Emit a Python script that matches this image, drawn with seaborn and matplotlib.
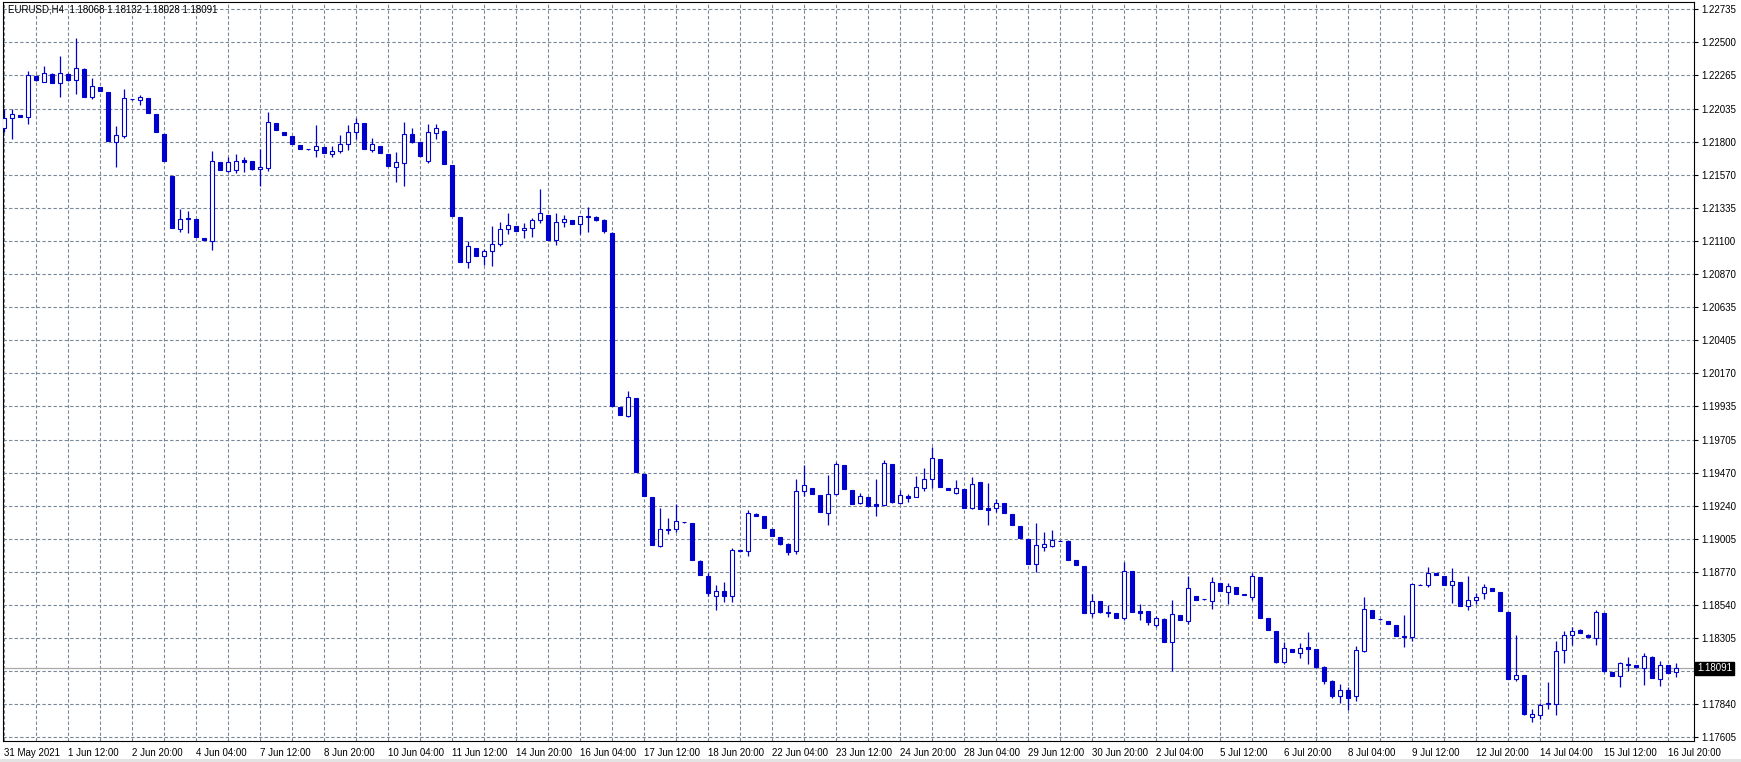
import numpy as np
import matplotlib
matplotlib.use("Agg")
import matplotlib.pyplot as plt
from matplotlib.patches import Rectangle
import seaborn as sns

sns.set_style("white")
plt.rcParams['font.family'] = ['Liberation Sans', 'DejaVu Sans']

symbol = "EURUSD,H4"

# H4 candles, oldest first
opens = [
    1.21900, 1.21967, 1.21990, 1.21974, 1.22265, 1.22224, 1.22279, 1.22213, 1.22279, 1.22234,
    1.22314, 1.22115, 1.22187, 1.22152, 1.21802, 1.21842, 1.22100, 1.22098, 1.22110, 1.21997,
    1.21856, 1.21560, 1.21187, 1.21260, 1.21255, 1.21123, 1.21104, 1.21659, 1.21597, 1.21602,
    1.21673, 1.21666, 1.21607, 1.21619, 1.21933, 1.21870, 1.21842, 1.21778, 1.21748, 1.21745,
    1.21764, 1.21713, 1.21738, 1.21783, 1.21872, 1.21933, 1.21745, 1.21771, 1.21715, 1.21626,
    1.21654, 1.21856, 1.21800, 1.21668, 1.21860, 1.21880, 1.21638, 1.21271, 1.20952, 1.21053,
    1.20994, 1.21030, 1.21079, 1.21185, 1.21208, 1.21178, 1.21192, 1.21248, 1.21285, 1.21107,
    1.21234, 1.21250, 1.21220, 1.21274, 1.21270, 1.21250, 1.21160, 1.19933, 1.19871, 1.19996,
    1.19461, 1.19299, 1.18955, 1.19069, 1.19071, 1.19122, 1.19115, 1.18850, 1.18745, 1.18600,
    1.18640, 1.18600, 1.18921, 1.18920, 1.19181, 1.19165, 1.19073, 1.19017, 1.18965, 1.18915,
    1.19339, 1.19362, 1.19313, 1.19188, 1.19322, 1.19524, 1.19348, 1.19258, 1.19299, 1.19247,
    1.19244, 1.19531, 1.19258, 1.19306, 1.19301, 1.19364, 1.19423, 1.19564, 1.19362, 1.19329,
    1.19355, 1.19219, 1.19404, 1.19221, 1.19219, 1.19256, 1.19179, 1.19094, 1.19003, 1.18824,
    1.18949, 1.18955, 1.18991, 1.18991, 1.18855, 1.18813, 1.18479, 1.18566, 1.18491, 1.18479,
    1.18444, 1.18777, 1.18495, 1.18495, 1.18400, 1.18441, 1.18275, 1.18467, 1.18427, 1.18601,
    1.18578, 1.18564, 1.18693, 1.18627, 1.18665, 1.18612, 1.18596, 1.18735, 1.18446, 1.18355,
    1.18140, 1.18228, 1.18202, 1.18242, 1.18228, 1.18100, 1.18000, 1.17900, 1.17940, 1.17900,
    1.18216, 1.18503, 1.18437, 1.18425, 1.18397, 1.18317, 1.18314, 1.18680, 1.18677, 1.18763,
    1.18742, 1.18677, 1.18700, 1.18529, 1.18571, 1.18620, 1.18658, 1.18629, 1.18488, 1.18020,
    1.18043, 1.17752, 1.17762, 1.17840, 1.17838, 1.18221, 1.18328, 1.18365, 1.18328, 1.18307,
    1.18482, 1.18064, 1.18036, 1.18118, 1.18112, 1.18091, 1.18173, 1.18019, 1.18112, 1.18068,
]
highs = [
    1.22032, 1.22032, 1.21993, 1.22300, 1.22270, 1.22335, 1.22283, 1.22405, 1.22283, 1.22534,
    1.22318, 1.22250, 1.22190, 1.22155, 1.21912, 1.22173, 1.22103, 1.22133, 1.22113, 1.22000,
    1.21859, 1.21563, 1.21330, 1.21313, 1.21258, 1.21126, 1.21736, 1.21662, 1.21692, 1.21715,
    1.21692, 1.21669, 1.21750, 1.22011, 1.21936, 1.21873, 1.21845, 1.21781, 1.21750, 1.21919,
    1.21767, 1.21771, 1.21849, 1.21919, 1.21967, 1.21936, 1.21826, 1.21774, 1.21718, 1.21729,
    1.21938, 1.21900, 1.21803, 1.21930, 1.21930, 1.21883, 1.21641, 1.21274, 1.21102, 1.21056,
    1.21048, 1.21208, 1.21236, 1.21299, 1.21211, 1.21229, 1.21262, 1.21469, 1.21288, 1.21299,
    1.21285, 1.21253, 1.21276, 1.21340, 1.21280, 1.21260, 1.21163, 1.19936, 1.20045, 1.19999,
    1.19464, 1.19302, 1.19221, 1.19151, 1.19249, 1.19125, 1.19118, 1.18853, 1.18760, 1.18680,
    1.18700, 1.18937, 1.18924, 1.19207, 1.19184, 1.19168, 1.19076, 1.19020, 1.18975, 1.19425,
    1.19526, 1.19365, 1.19316, 1.19454, 1.19545, 1.19527, 1.19351, 1.19327, 1.19302, 1.19425,
    1.19559, 1.19534, 1.19348, 1.19320, 1.19447, 1.19503, 1.19651, 1.19567, 1.19365, 1.19418,
    1.19358, 1.19437, 1.19407, 1.19397, 1.19285, 1.19259, 1.19182, 1.19097, 1.19006, 1.19115,
    1.19052, 1.19066, 1.18994, 1.18994, 1.18858, 1.18816, 1.18615, 1.18569, 1.18536, 1.18482,
    1.18841, 1.18780, 1.18543, 1.18498, 1.18460, 1.18444, 1.18573, 1.18470, 1.18740, 1.18604,
    1.18581, 1.18735, 1.18696, 1.18691, 1.18668, 1.18615, 1.18761, 1.18738, 1.18449, 1.18358,
    1.18277, 1.18231, 1.18270, 1.18348, 1.18231, 1.18110, 1.18010, 1.17980, 1.17960, 1.18249,
    1.18594, 1.18506, 1.18440, 1.18428, 1.18400, 1.18467, 1.18684, 1.18683, 1.18805, 1.18766,
    1.18745, 1.18798, 1.18703, 1.18742, 1.18620, 1.18686, 1.18661, 1.18632, 1.18491, 1.18326,
    1.18046, 1.17803, 1.17848, 1.17998, 1.18283, 1.18358, 1.18386, 1.18368, 1.18331, 1.18506,
    1.18485, 1.18067, 1.18139, 1.18173, 1.18115, 1.18197, 1.18176, 1.18146, 1.18115, 1.18132,
]
lows = [
    1.21872, 1.21819, 1.21975, 1.21926, 1.22232, 1.22220, 1.22213, 1.22119, 1.22232, 1.22138,
    1.22115, 1.22103, 1.22158, 1.21806, 1.21626, 1.21830, 1.22097, 1.22062, 1.22003, 1.21869,
    1.21665, 1.21191, 1.21166, 1.21159, 1.21129, 1.21108, 1.21039, 1.21599, 1.21586, 1.21583,
    1.21590, 1.21606, 1.21490, 1.21597, 1.21881, 1.21848, 1.21785, 1.21747, 1.21744, 1.21696,
    1.21721, 1.21696, 1.21724, 1.21743, 1.21821, 1.21747, 1.21731, 1.21719, 1.21630, 1.21520,
    1.21490, 1.21790, 1.21700, 1.21650, 1.21820, 1.21644, 1.21277, 1.20953, 1.20914, 1.20996,
    1.20931, 1.20928, 1.21067, 1.21154, 1.21172, 1.21125, 1.21130, 1.21231, 1.21108, 1.21076,
    1.21201, 1.21221, 1.21154, 1.21168, 1.21240, 1.21160, 1.19939, 1.19875, 1.19864, 1.19474,
    1.19305, 1.18960, 1.18948, 1.19040, 1.19052, 1.19117, 1.18852, 1.18747, 1.18600, 1.18500,
    1.18560, 1.18560, 1.18918, 1.18885, 1.19164, 1.19079, 1.19021, 1.18962, 1.18890, 1.18900,
    1.19304, 1.19319, 1.19192, 1.19104, 1.19313, 1.19354, 1.19248, 1.19247, 1.19232, 1.19167,
    1.19241, 1.19260, 1.19251, 1.19261, 1.19298, 1.19343, 1.19360, 1.19368, 1.19345, 1.19318,
    1.19220, 1.19212, 1.19213, 1.19101, 1.19195, 1.19185, 1.19101, 1.19009, 1.18826, 1.18772,
    1.18920, 1.18949, 1.18988, 1.18852, 1.18819, 1.18481, 1.18455, 1.18485, 1.18455, 1.18445,
    1.18432, 1.18488, 1.18432, 1.18400, 1.18380, 1.18277, 1.18075, 1.18429, 1.18404, 1.18572,
    1.18575, 1.18512, 1.18636, 1.18548, 1.18614, 1.18610, 1.18575, 1.18445, 1.18359, 1.18130,
    1.18120, 1.18204, 1.18164, 1.18122, 1.18097, 1.17980, 1.17880, 1.17850, 1.17800, 1.17860,
    1.18209, 1.18443, 1.18434, 1.18403, 1.18318, 1.18244, 1.18286, 1.18677, 1.18667, 1.18748,
    1.18678, 1.18554, 1.18530, 1.18505, 1.18548, 1.18580, 1.18636, 1.18495, 1.18015, 1.18000,
    1.17766, 1.17717, 1.17734, 1.17803, 1.17762, 1.18129, 1.18256, 1.18338, 1.18311, 1.18256,
    1.18067, 1.18037, 1.17961, 1.18070, 1.18095, 1.17974, 1.18023, 1.17964, 1.18057, 1.18028,
]
closes = [
    1.21971, 1.21995, 1.21978, 1.22270, 1.22236, 1.22284, 1.22217, 1.22286, 1.22236, 1.22319,
    1.22119, 1.22192, 1.22161, 1.21809, 1.21847, 1.22107, 1.22100, 1.22117, 1.22006, 1.21872,
    1.21668, 1.21194, 1.21255, 1.21264, 1.21132, 1.21111, 1.21664, 1.21602, 1.21659, 1.21666,
    1.21659, 1.21609, 1.21621, 1.21938, 1.21884, 1.21851, 1.21788, 1.21750, 1.21747, 1.21769,
    1.21724, 1.21734, 1.21783, 1.21868, 1.21931, 1.21750, 1.21783, 1.21722, 1.21633, 1.21659,
    1.21856, 1.21800, 1.21703, 1.21870, 1.21900, 1.21647, 1.21280, 1.20956, 1.21065, 1.20999,
    1.21032, 1.21079, 1.21187, 1.21213, 1.21175, 1.21194, 1.21248, 1.21299, 1.21111, 1.21236,
    1.21255, 1.21224, 1.21276, 1.21278, 1.21250, 1.21170, 1.19942, 1.19878, 1.20001, 1.19477,
    1.19308, 1.18963, 1.19071, 1.19073, 1.19127, 1.19120, 1.18855, 1.18750, 1.18620, 1.18640,
    1.18600, 1.18923, 1.18921, 1.19184, 1.19167, 1.19082, 1.19024, 1.18965, 1.18910, 1.19339,
    1.19381, 1.19322, 1.19195, 1.19318, 1.19529, 1.19357, 1.19251, 1.19304, 1.19235, 1.19235,
    1.19536, 1.19263, 1.19311, 1.19294, 1.19367, 1.19423, 1.19571, 1.19371, 1.19348, 1.19360,
    1.19223, 1.19393, 1.19216, 1.19209, 1.19254, 1.19188, 1.19104, 1.19012, 1.18829, 1.18958,
    1.18965, 1.18994, 1.18991, 1.18855, 1.18822, 1.18484, 1.18564, 1.18488, 1.18484, 1.18448,
    1.18777, 1.18491, 1.18484, 1.18420, 1.18446, 1.18280, 1.18472, 1.18432, 1.18655, 1.18575,
    1.18578, 1.18698, 1.18639, 1.18669, 1.18617, 1.18613, 1.18740, 1.18448, 1.18362, 1.18140,
    1.18235, 1.18207, 1.18235, 1.18230, 1.18100, 1.18000, 1.17900, 1.17940, 1.17880, 1.18219,
    1.18510, 1.18446, 1.18437, 1.18406, 1.18321, 1.18312, 1.18684, 1.18680, 1.18761, 1.18751,
    1.18681, 1.18705, 1.18533, 1.18571, 1.18592, 1.18663, 1.18639, 1.18498, 1.18020, 1.18045,
    1.17769, 1.17772, 1.17837, 1.17846, 1.18214, 1.18328, 1.18358, 1.18341, 1.18314, 1.18492,
    1.18070, 1.18040, 1.18129, 1.18125, 1.18098, 1.18180, 1.18026, 1.18112, 1.18060, 1.18091,
]

date_labels = [
    "31 May 2021", "1 Jun 12:00", "2 Jun 20:00", "4 Jun 04:00", "7 Jun 12:00",
    "8 Jun 20:00", "10 Jun 04:00", "11 Jun 12:00", "14 Jun 20:00", "16 Jun 04:00",
    "17 Jun 12:00", "18 Jun 20:00", "22 Jun 04:00", "23 Jun 12:00", "24 Jun 20:00",
    "28 Jun 04:00", "29 Jun 12:00", "30 Jun 20:00", "2 Jul 04:00", "5 Jul 12:00",
    "6 Jul 20:00", "8 Jul 04:00", "9 Jul 12:00", "12 Jul 20:00", "14 Jul 04:00",
    "15 Jul 12:00", "16 Jul 20:00",
]
price_labels = [
    "1.22735", "1.22500", "1.22265", "1.22035", "1.21800", "1.21570", "1.21335",
    "1.21100", "1.20870", "1.20635", "1.20405", "1.20170", "1.19935", "1.19705",
    "1.19470", "1.19240", "1.19005", "1.18770", "1.18540", "1.18305", "1.18070",
    "1.17840", "1.17605",
]

blue = "#0000CD"
grid_col = "#778899"

o = np.array(opens)
h = np.array(highs)
l = np.array(lows)
c = np.array(closes)
idx = np.arange(len(o))
bull = c >= o
last = c[-1]

fig = plt.figure(figsize=(17.41, 7.62), dpi=100)
fig.patch.set_facecolor("white")
ax = fig.add_axes([3 / 1741, 21 / 762, 1691 / 1741, 739 / 762])
ax.set_xlim(-0.125, 211.25)
ax.set_ylim(1.17580, 1.22786)

# dotted grid: every 4th bar vertically, every price level horizontally
price_ticks = np.linspace(float(price_labels[0]), float(price_labels[-1]), len(price_labels))
ax.vlines(idx[::4], 1.17580, 1.22786, colors=grid_col, linestyles=(0, (3, 2)), lw=0.8, zorder=0)
for p in price_ticks:
    ax.axhline(p, color=grid_col, ls=(0, (3, 2)), lw=0.8, zorder=0)

# last price line
ax.axhline(last, color="#a9a9a9", lw=0.9, zorder=1)

# candles
ax.vlines(idx, l, h, colors=blue, lw=0.9, zorder=2)
body_lo = np.minimum(o, c)
body_h = np.maximum(np.abs(c - o), 0.000012)
ax.bar(idx, body_h, bottom=body_lo, width=0.5,
       color=np.where(bull, "white", blue), edgecolor=blue, linewidth=0.8, zorder=3)

# axes look
for s in ax.spines.values():
    s.set_color("black")
    s.set_linewidth(0.8)
ax.yaxis.tick_right()
# the price level hidden under the last-price box gets no text
shown = [lab if abs(p - last) > 0.0005 else "" for p, lab in zip(price_ticks, price_labels)]
ax.set_yticks(price_ticks, shown)
ax.set_xticks(idx[::8], date_labels)
ax.tick_params(axis="y", direction="out", length=3, width=0.8, pad=2, labelsize=7, colors="black")
ax.tick_params(axis="x", direction="out", length=3, width=0.8, pad=2, labelsize=7, colors="black")
for t in ax.get_xticklabels():
    t.set_ha("left")

ax.text(1.0 + 3 / 1691, last, f"{last:.5f}", transform=ax.get_yaxis_transform(),
        ha="left", va="center", color="white", fontsize=7, clip_on=False, zorder=10,
        bbox=dict(facecolor="black", edgecolor="black", boxstyle="square,pad=0.2"))

header = f"{symbol}  " + " ".join(f"{v:.5f}" for v in (o[-1], h[-1], l[-1], c[-1]))
fig.text(8 / 1741, 1 - 10 / 762, header, ha="left", va="center", fontsize=7, color="black")

fig.patches.append(Rectangle((0, 0), 1, 3 / 762, transform=fig.transFigure,
                             facecolor="#e3e3e3", edgecolor="none"))

fig.savefig("out.png", dpi=100)
